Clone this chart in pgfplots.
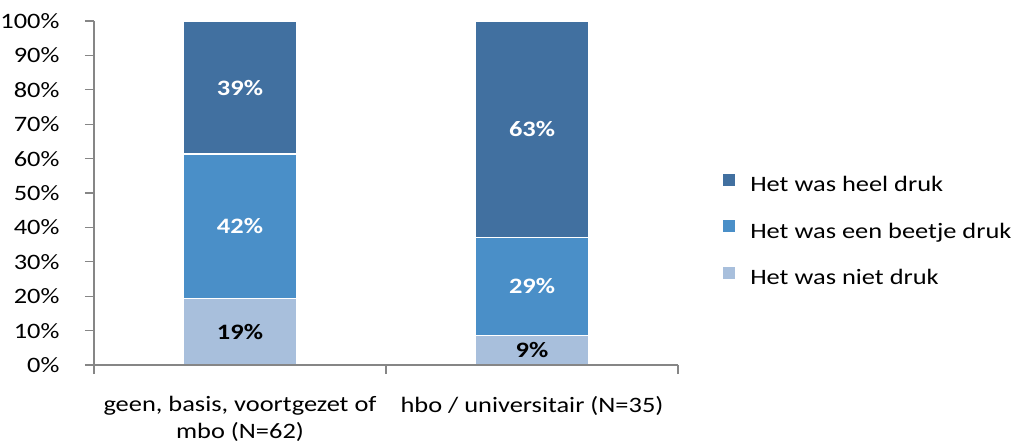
\documentclass[border=0pt]{standalone}
\usepackage{pgfplots}
\pgfplotsset{compat=1.18}
\usepackage{pgfplotstable}
\usepackage{fontspec}
\setmainfont{Carlito}[FakeStretch=1.2]

\definecolor{heel}{HTML}{4170A0}
\definecolor{beetje}{HTML}{4A8FC8}
\definecolor{niet}{HTML}{A8BFDC}
\definecolor{axisgray}{HTML}{868686}

% Share of respondents (%) per answer; x = 0: geen/basis/vo/mbo (N=62), x = 1: hbo/wo (N=35)
\pgfplotstableread{
x y
0 19.35
1 8.57
}\tabNiet
\pgfplotstableread{
x y
0 41.94
1 28.57
}\tabBeetje
\pgfplotstableread{
x y
0 38.71
1 62.86
}\tabHeel

% rounded value label inside its own segment
\pgfplotsset{
  seglabel/.style={
    point meta=explicit,
    nodes near coords={\pgfmathprintnumber[fixed,precision=0]{\pgfplotspointmeta}\%},
    nodes near coords style={anchor=center, font=\bfseries, text=#1},
  },
}

\begin{document}
\fontsize{16.5}{20}\selectfont
\begin{tikzpicture}[font=\fontsize{16.5}{20}\selectfont]
\begin{axis}[
  scale only axis, width=438pt, height=258pt,
  ybar stacked, bar width=85.5pt,
  xmin=-0.5, xmax=1.5, ymin=0, ymax=100,
  axis on top,
  axis x line*=bottom, axis y line*=left,
  axis line style={axisgray, line width=0.9pt, -},
  tick align=outside, major tick length=6.75pt,
  tick style={axisgray, line width=0.9pt},
  xtick={-0.5,0.5,1.5}, xticklabels={},
  extra x ticks={0,1},
  extra x tick labels={{geen, basis, voortgezet of\\mbo (N=62)}, {hbo / universitair (N=35)}},
  extra x tick style={major tick length=0pt, tick style={draw=none},
    tick label style={align=center, anchor=north, yshift=-18pt}},
  ytick={0,10,...,100},
  yticklabel={\pgfmathprintnumber{\tick}\%},
  yticklabel style={anchor=east, xshift=-13.5pt},
  /pgf/number format/assume math mode=true,
  reverse legend,
  legend cell align=left,
  legend style={at={(1,0.3924)}, anchor=west, xshift=33.75pt, yshift=-1.5pt,
    draw=none, fill=none, inner sep=0pt,
    nodes={inner sep=0pt, text height=11pt, text depth=4pt},
    row sep=17.5pt,
    /tikz/every odd column/.append style={column sep=11.25pt}},
  legend image code/.code={\fill[#1, draw=none] (0pt,0.8pt) rectangle (9pt,9.8pt);},
]
\addplot[fill=niet, draw=white, line width=1.1pt, seglabel=black]
  table[x=x, y=y, meta=y] {\tabNiet};
\addplot[fill=beetje, draw=white, line width=1.1pt, seglabel=white]
  table[x=x, y=y, meta=y] {\tabBeetje};
\addplot[fill=heel, draw=white, line width=1.1pt, seglabel=white]
  table[x=x, y=y, meta=y] {\tabHeel};
\legend{Het was niet druk, Het was een beetje druk, Het was heel druk}
\end{axis}
\pgfresetboundingbox
\useasboundingbox (-70.5pt,-58.5pt) rectangle (693.75pt,273.75pt);
\end{tikzpicture}
\end{document}
